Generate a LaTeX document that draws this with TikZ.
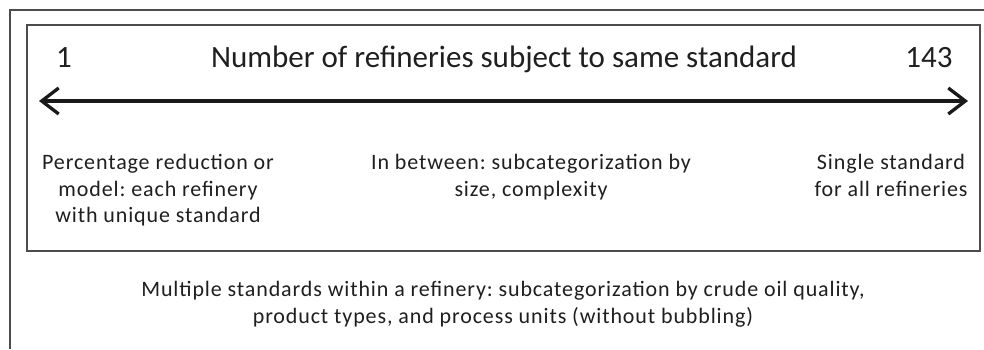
\documentclass[tikz,border=0pt]{standalone}
\usepackage{fontspec}
\setmainfont{Carlito}
\newfontfamily\spacedfont[LetterSpace=4]{Carlito}
\usetikzlibrary{arrows.meta}
\frenchspacing
\begin{document}
\begin{tikzpicture}[x=1pt,y=-1pt,
  frame/.style={draw=black!70,line width=1.6pt},
  lbl/.style={inner sep=0pt,text=black!88,align=center},
  big/.style={font=\fontsize{31}{36}\selectfont},
  small/.style={font=\spacedfont\fontsize{22}{26.5}\selectfont},
  tip/.style={},
  axis/.style={line width=3.3pt,black!90,{Straight Barb[length=17pt,width=26pt,line width=3.3pt]}-{Straight Barb[length=17pt,width=26pt,line width=3.3pt]}}]
\useasboundingbox (0,0) rectangle (984,349);
\fill[white] (0,0) rectangle (984,349);
% outer frame (top and left only)
\draw[frame] (984,10) -- (10,10) -- (10,349);
% inner box
\draw[frame] (27,25) rectangle (980,251);
% top labels
\node[lbl,big,anchor=base] (one) at (64,67) {1};
\node[lbl,big,anchor=base] (title) at (504,67) {Number of refineries subject to same standard};
\node[lbl,big,anchor=base] (max) at (929,67) {143};
% axis
\coordinate (l) at (39,101);
\coordinate (r) at (968,101);
\draw[axis] (l) -- (r);
% lower labels
\node[lbl,small,anchor=north] (low) at (158,154.5) {Percentage reduction or\\model: each refinery\\with unique standard};
\node[lbl,small,anchor=north] (mid) at (531,154.5) {In between: subcategorization by\\size, complexity};
\node[lbl,small,anchor=north] (high) at (891,154.5) {Single standard\\for all refineries};
\node[lbl,small,anchor=north] (multi) at (503,281.5) {Multiple standards within a refinery: subcategorization by crude oil quality,\\product types, and process units (without bubbling)};
\end{tikzpicture}
\end{document}
